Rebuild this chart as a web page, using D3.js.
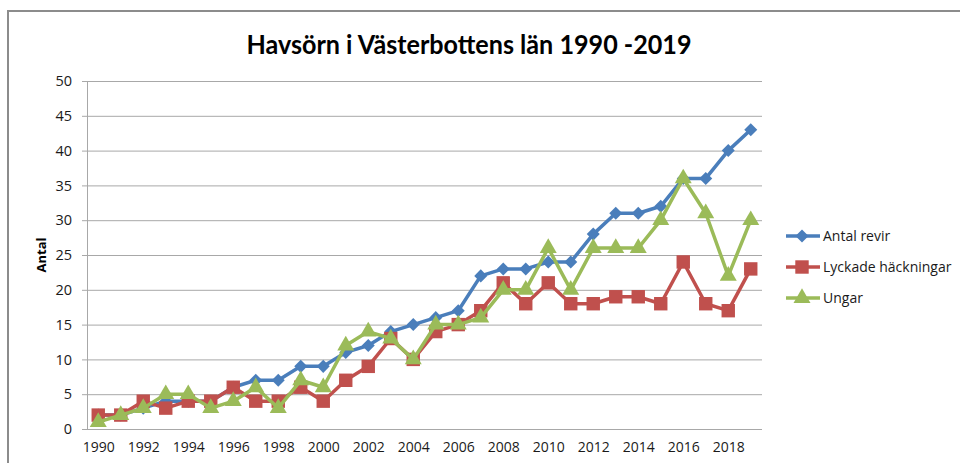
<!DOCTYPE html>
<html>
<head>
<meta charset="utf-8">
<script src="https://cdn.jsdelivr.net/npm/d3@7"></script>
<style>
  html, body { margin: 0; padding: 0; background: #fff; }
  svg { display: block; }
</style>
</head>
<body>
<svg id="chart" width="960" height="463"></svg>
<script>
const years = d3.range(1990, 2020);
const antalRevir = [2,2,3,4,4,4,6,7,7,9,9,11,12,14,15,16,17,22,23,23,24,24,28,31,31,32,36,36,40,43];
const lyckadeHackningar = [2,2,4,3,4,4,6,4,4,6,4,7,9,13,10,14,15,17,21,18,21,18,18,19,19,18,24,18,17,23];
const ungar = [1,2,3,5,5,3,4,6,3,7,6,12,14,13,10,15,15,16,20,20,26,20,26,26,26,30,36,31,22,30];
const seriesNames = ["Antal revir", "Lyckade häckningar", "Ungar"];
const yTicks = [0,5,10,15,20,25,30,35,40,45,50];
const xTickLabels = d3.range(1990, 2020, 2);
const chartTitle = "Havsörn i Västerbottens län 1990 -2019";
const yTitle = "Antal";

const colors = ["#4A7EBB", "#C0504D", "#9BBB59"];
const seriesData = [antalRevir, lyckadeHackningar, ungar];
const markers = [d3.symbolSquare, d3.symbolSquare, d3.symbolTriangle];
const markerSizes = [85, 180, 125];
const markerRot = [45, 0, 0];

const svg = d3.select("#chart");
const pLeft = 87, pRight = 762, pTop = 81, pBottom = 429;

// frame
svg.append("rect").attr("x", 8).attr("y", 11).attr("width", 1000).attr("height", 1000)
  .attr("fill", "none").attr("stroke", "#8c8c8c").attr("stroke-width", 2);

const x = d3.scalePoint().domain(years).range([pLeft, pRight]).padding(0.5);
const y = d3.scaleLinear().domain([0, 50]).range([pBottom, pTop]);

// gridlines
svg.append("g").attr("transform", `translate(${pLeft},0)`)
  .call(d3.axisLeft(y).tickValues(yTicks.slice(1)).tickSize(-(pRight - pLeft)).tickFormat(""))
  .call(g => g.select(".domain").remove())
  .call(g => g.selectAll("line").attr("stroke", "#a8a8a8").attr("stroke-width", 1));

// y axis
svg.append("g").attr("transform", `translate(${pLeft},0)`)
  .call(d3.axisLeft(y).tickValues(yTicks).tickSize(5).tickPadding(10))
  .call(g => g.select(".domain").attr("stroke", "#a8a8a8"))
  .call(g => g.selectAll("line").attr("stroke", "#a8a8a8"))
  .call(g => g.selectAll("text").attr("font-family", "'Open Sans', sans-serif").attr("font-size", "14.5px").attr("fill", "#1a1a1a"));

// x axis
svg.append("g").attr("transform", `translate(0,${pBottom})`)
  .call(d3.axisBottom(x).tickValues(xTickLabels).tickSize(0).tickPadding(13))
  .call(g => g.select(".domain").attr("stroke", "#a8a8a8").attr("d", `M${pLeft - 5},0.5H${pRight}`))
  .call(g => g.selectAll("text").attr("font-family", "'Open Sans', sans-serif").attr("font-size", "14px").attr("fill", "#1a1a1a"));

// title
svg.append("text").attr("x", 469).attr("y", 54).attr("text-anchor", "middle")
  .attr("font-family", "Lato, 'Open Sans', sans-serif").attr("font-weight", "bold")
  .attr("font-size", "26px").attr("fill", "#000")
  .attr("textLength", 445).attr("lengthAdjust", "spacingAndGlyphs")
  .text(chartTitle);

// y title
svg.append("text").attr("transform", `translate(46,255) rotate(-90)`).attr("text-anchor", "middle")
  .attr("font-family", "'Open Sans', sans-serif").attr("font-weight", "bold").attr("font-size", "13px")
  .attr("fill", "#000").text(yTitle);

// lines and markers
const line = d3.line().x((d, i) => x(years[i])).y(d => y(d));
seriesData.forEach((vals, si) => {
  svg.append("path").datum(vals).attr("d", line).attr("fill", "none")
    .attr("stroke", colors[si]).attr("stroke-width", 3.5).attr("stroke-linejoin", "round");
  svg.append("g").selectAll("path").data(vals).join("path")
    .attr("transform", (d, i) => `translate(${x(years[i])},${y(d)}) rotate(${markerRot[si]})`)
    .attr("d", d3.symbol().type(markers[si]).size(markerSizes[si]))
    .attr("fill", colors[si]);
});

// legend
const legendY = [236, 267, 298];
seriesNames.forEach((name, si) => {
  const g = svg.append("g").attr("transform", `translate(786,${legendY[si]})`);
  g.append("line").attr("x1", 0).attr("x2", 34).attr("y1", 0).attr("y2", 0)
    .attr("stroke", colors[si]).attr("stroke-width", 3.5);
  g.append("path").attr("transform", `translate(16,0) rotate(${markerRot[si]})`)
    .attr("d", d3.symbol().type(markers[si]).size(markerSizes[si])).attr("fill", colors[si]);
  g.append("text").attr("x", 37).attr("y", 0).attr("dy", "0.35em")
    .attr("font-family", "'Open Sans', sans-serif").attr("font-size", "14px").attr("fill", "#1a1a1a")
    .text(name);
});
</script>
</body>
</html>
